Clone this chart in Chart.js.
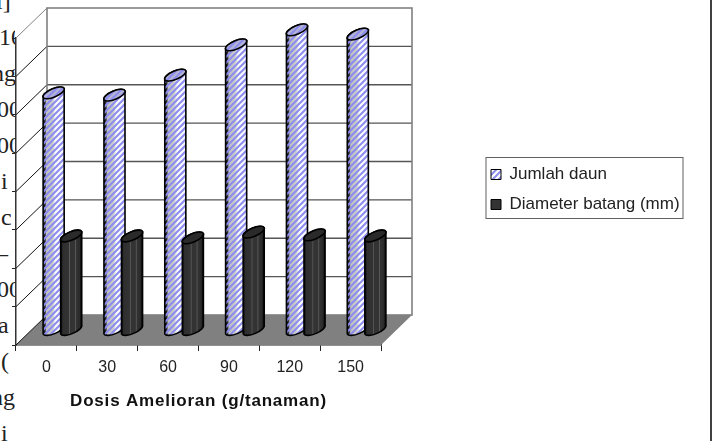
<!DOCTYPE html>
<html>
<head>
<meta charset="utf-8">
<script src="https://cdn.jsdelivr.net/npm/chart.js@4"></script>
<style>
    html, body { margin: 0; padding: 0; background: #fff; overflow: hidden; }
    #page { position: relative; width: 715px; height: 441px; }
    #chart { position: absolute; left: 0; top: 0; }
    #bodyText { position: absolute; left: 0; top: 0; width: 15px; height: 441px; overflow: hidden;
        font: 24px "Liberation Serif", serif; color: #222; }
    #bodyText span { position: absolute; line-height: 26px; white-space: nowrap; }
    #pageEdge { position: absolute; left: 710px; top: 0; width: 2px; height: 441px; background: #404040; }
</style>
</head>
<body>
<div id="page">
    <div id="bodyText"></div>
    <canvas id="chart" width="715" height="441"></canvas>
    <div id="pageEdge"></div>
</div>
<script>
// Chart data
const categories = ['0', '30', '60', '90', '120', '150'];
const jumlahDaun = [61.8, 61.2, 66.4, 74.3, 78.2, 77.1];
const diameterBatang = [24.5, 24.5, 24, 25.5, 24.8, 24.5];

// Cut off words of the document text behind the chart
const bodyWords = ['l]', '10', 'ng', '00', '00', 'i', 'c', '–', '00', 'a', '(', 'ng', 'i'];
const bodyLeft = [-4, -1, -8, -3, -3, 1, 1, -4, -3, -2, 1, -9, 1];

const holder = document.getElementById('bodyText');
bodyWords.forEach(function(word, i) {
    const span = document.createElement('span');
    span.textContent = word;
    span.style.left = bodyLeft[i] + 'px';
    span.style.top = (-12 + i * 36) + 'px';
    holder.appendChild(span);
});

// Depth of the 3D box and of the bars inside it
const wallDx = 31, wallDy = -30;
const barDx = 16, barDy = -15;
const capTilt = 0.4, capHeight = 4.2;

function makeHatch() {
    const c = document.createElement('canvas');
    c.width = 6;
    c.height = 6;
    const g = c.getContext('2d');
    g.strokeStyle = '#8c8cee';
    g.lineWidth = 2;
    [[-3, 3, 3, -3], [0, 6, 6, 0], [3, 9, 9, 3]].forEach(function(p) {
        g.beginPath();
        g.moveTo(p[0], p[1]);
        g.lineTo(p[2], p[3]);
        g.stroke();
    });
    return g.createPattern(c, 'repeat');
}

function drawBox(chart) {
    const ctx = chart.ctx, x = chart.scales.x, y = chart.scales.y;
    const left = x.left, right = x.right, top = y.top, bottom = y.bottom;
    ctx.save();

    // floor
    ctx.fillStyle = '#808080';
    ctx.beginPath();
    ctx.moveTo(left, bottom);
    ctx.lineTo(right, bottom);
    ctx.lineTo(right + wallDx, bottom + wallDy);
    ctx.lineTo(left + wallDx, bottom + wallDy);
    ctx.closePath();
    ctx.fill();

    // grid lines on the back and left walls
    y.ticks.forEach(function(tick, i) {
        const py = y.getPixelForTick(i);
        ctx.lineWidth = 1;
        ctx.strokeStyle = tick.value === 80 ? '#808080' : '#111';
        ctx.beginPath();
        ctx.moveTo(left, py);
        ctx.lineTo(left + wallDx, py + wallDy);
        ctx.stroke();
        if (tick.value > 0 && tick.value < 80) {
            ctx.lineWidth = 1.3;
            ctx.strokeStyle = '#555';
            ctx.beginPath();
            ctx.moveTo(left + wallDx, py + wallDy);
            ctx.lineTo(right + wallDx, py + wallDy);
            ctx.stroke();
        }
    });

    // back wall outline
    ctx.lineWidth = 1.6;
    ctx.strokeStyle = '#808080';
    ctx.strokeRect(left + wallDx, top + wallDy, right - left, bottom - top);
    ctx.restore();
}

function cylinderPath(ctx, bar, a) {
    ctx.beginPath();
    ctx.ellipse(bar.x, bar.y, a, capHeight, -capTilt, Math.PI, 0, false);
    ctx.ellipse(bar.x, bar.base, a, capHeight, -capTilt, 0, Math.PI, false);
    ctx.closePath();
}

function drawCylinder(ctx, bar, light, hatch) {
    const half = bar.width / 2;
    const a = half / Math.cos(capTilt);
    const shade = ctx.createLinearGradient(bar.x - half, 0, bar.x + half, 0);
    if (light) {
        shade.addColorStop(0, '#000');
        shade.addColorStop(0.1, '#333');
        shade.addColorStop(0.16, '#c0c0c0');
        shade.addColorStop(0.45, '#cccccc');
        shade.addColorStop(0.6, '#fff');
        shade.addColorStop(1, '#f4f4ff');
    } else {
        shade.addColorStop(0, '#000');
        shade.addColorStop(0.1, '#2e2e2e');
        shade.addColorStop(0.38, '#333');
        shade.addColorStop(0.42, '#5a5a5a');
        shade.addColorStop(0.46, '#333');
        shade.addColorStop(0.66, '#333');
        shade.addColorStop(0.7, '#5a5a5a');
        shade.addColorStop(0.74, '#333');
        shade.addColorStop(0.9, '#2a2a2a');
        shade.addColorStop(1, '#000');
    }
    cylinderPath(ctx, bar, a);
    ctx.fillStyle = shade;
    ctx.fill();
    if (light) {
        ctx.fillStyle = hatch;
        ctx.fill();
    }
    ctx.strokeStyle = '#000';
    ctx.lineWidth = 1.6;
    ctx.stroke();

    // top of the cylinder
    ctx.beginPath();
    ctx.ellipse(bar.x, bar.y, a, capHeight, -capTilt, 0, Math.PI * 2);
    ctx.fillStyle = light ? '#b4b4d4' : '#2a2a2a';
    ctx.fill();
    if (light) {
        ctx.fillStyle = hatch;
        ctx.fill();
    }
    ctx.stroke();
}

const boxPlugin = {
    id: 'box3d',
    afterLayout: function(chart) {
        // legend sits right of the plot, outside the chart area
        const legend = chart.legend;
        legend.left = 478;
        legend.right = 700;
        legend.top = 153;
        legend.bottom = 260;

        // the axis title is spaced out a little in the original
        const xAxis = chart.scales.x;
        const drawTitle = xAxis.drawTitle;
        xAxis.drawTitle = function() {
            chart.ctx.letterSpacing = '0.8px';
            drawTitle.apply(this, arguments);
            chart.ctx.letterSpacing = '0px';
        };
    },
    beforeDatasetsDraw: function(chart) {
        const ctx = chart.ctx;
        drawBox(chart);
        ctx.save();
        ctx.translate(barDx, barDy);
        chart.data.datasets.forEach(function(dataset, i) {
            chart.getDatasetMeta(i).data.forEach(function(el) {
                const bar = el.getProps(['x', 'y', 'base', 'width']);
                drawCylinder(ctx, bar, i === 0, dataset.backgroundColor);
            });
        });
        ctx.restore();
        return false;
    },
    afterDraw: function(chart) {
        const ctx = chart.ctx;
        ctx.save();
        ctx.strokeStyle = '#606060';
        ctx.lineWidth = 1;
        ctx.strokeRect(486, 157.5, 197, 61);
        ctx.restore();
    }
};

function initializeChart() {
    const ctx = document.getElementById('chart').getContext('2d');
    const axisFont = { family: '"Liberation Sans", Arial, sans-serif', size: 16 };
    new Chart(ctx, {
        type: 'bar',
        data: {
            labels: categories,
            datasets: [
                {
                    label: 'Jumlah daun',
                    data: jumlahDaun,
                    backgroundColor: makeHatch(),
                    borderColor: '#000',
                    borderWidth: 1
                },
                {
                    label: 'Diameter batang (mm)',
                    data: diameterBatang,
                    backgroundColor: '#333333',
                    borderColor: '#000',
                    borderWidth: 1
                }
            ]
        },
        options: {
            responsive: false,
            animation: false,
            categoryPercentage: 0.577,
            barPercentage: 1.2,
            layout: { padding: { left: 12, right: 334, top: 38, bottom: 0 } },
            scales: {
                x: {
                    afterFit: function(scale) { scale.height = 96; },
                    grid: { drawOnChartArea: false, color: '#222', tickLength: 6 },
                    border: { color: '#222', width: 1.5 },
                    ticks: { color: '#222', font: axisFont, padding: 7, maxRotation: 0 },
                    title: {
                        display: true,
                        text: 'Dosis Amelioran (g/tanaman)',
                        color: '#111',
                        font: { family: axisFont.family, size: 17, weight: 'bold' },
                        padding: { top: 0, bottom: 29 }
                    }
                },
                y: {
                    min: 0,
                    max: 80,
                    ticks: { display: false, stepSize: 10 },
                    grid: { drawOnChartArea: false, color: '#222', tickLength: 4 },
                    border: { color: '#333', width: 1.5 }
                }
            },
            plugins: {
                tooltip: { enabled: false },
                legend: {
                    position: 'chartArea',
                    align: 'start',
                    labels: {
                        color: '#222',
                        font: { family: axisFont.family, size: 17 },
                        boxWidth: 10,
                        boxHeight: 10,
                        padding: 13
                    }
                }
            }
        },
        plugins: [boxPlugin]
    });
}

initializeChart();
</script>
</body>
</html>
